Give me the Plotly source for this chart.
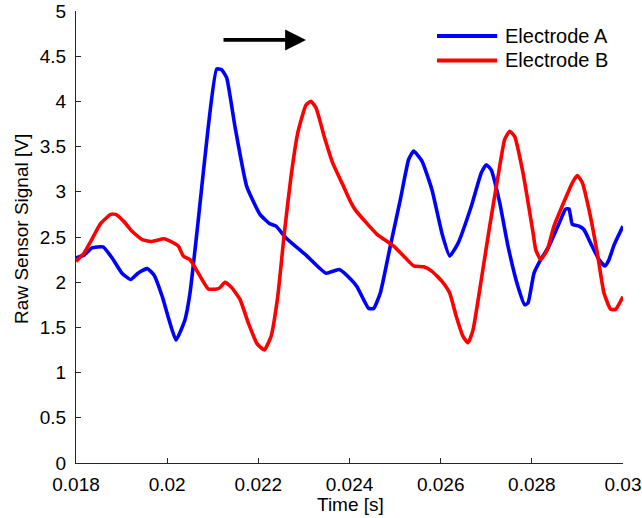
import plotly.graph_objects as go

# Sampled raw sensor traces (time in s, signal in V)
time_a = [0.018000, 0.018176, 0.018351, 0.018592, 0.018790, 0.019009, 0.019200, 0.019360,
          0.019564, 0.019711, 0.019893, 0.020040, 0.020194, 0.020391, 0.020501, 0.020683,
          0.020902, 0.021087, 0.021196, 0.021306, 0.021488, 0.021745, 0.022037, 0.022241,
          0.022388, 0.022607, 0.023046, 0.023484, 0.023776, 0.024033, 0.024165, 0.024421,
          0.024531, 0.024676, 0.024895, 0.025114, 0.025299, 0.025408, 0.025590, 0.025810,
          0.026029, 0.026198, 0.026380, 0.026672, 0.026892, 0.027001, 0.027111, 0.027295,
          0.027477, 0.027697, 0.027844, 0.027916, 0.028048, 0.028195, 0.028377, 0.028597,
          0.028743, 0.028816, 0.028888, 0.029035, 0.029145, 0.029292, 0.029474, 0.029605,
          0.029693, 0.029803, 0.030000]
signal_a = [2.27, 2.30, 2.38, 2.39, 2.27, 2.10, 2.03, 2.10,
            2.15, 2.08, 1.84, 1.585, 1.36, 1.585, 1.88, 2.69,
            3.72, 4.36, 4.35, 4.26, 3.72, 3.06, 2.75, 2.65,
            2.62, 2.49, 2.30, 2.10, 2.14, 2.03, 1.95, 1.71,
            1.71, 1.88, 2.40, 2.91, 3.36, 3.45, 3.34, 3.02,
            2.54, 2.29, 2.43, 2.84, 3.21, 3.30, 3.24, 2.88,
            2.40, 1.95, 1.75, 1.77, 2.10, 2.25, 2.40, 2.65,
            2.81, 2.81, 2.64, 2.62, 2.58, 2.43, 2.25, 2.18,
            2.25, 2.41, 2.62]

time_b = [0.018000, 0.018176, 0.018322, 0.018542, 0.018761, 0.018871, 0.019053, 0.019235,
          0.019454, 0.019639, 0.019931, 0.020040, 0.020244, 0.020354, 0.020501, 0.020683,
          0.020902, 0.021087, 0.021159, 0.021269, 0.021416, 0.021598, 0.021780, 0.021971,
          0.022131, 0.022278, 0.022425, 0.022570, 0.022717, 0.022864, 0.023046, 0.023155,
          0.023265, 0.023447, 0.023631, 0.023851, 0.024033, 0.024127, 0.024347, 0.024603,
          0.024970, 0.025224, 0.025408, 0.025628, 0.025810, 0.026029, 0.026198, 0.026343,
          0.026490, 0.026600, 0.026709, 0.026892, 0.027076, 0.027258, 0.027405, 0.027515,
          0.027624, 0.027806, 0.028026, 0.028085, 0.028195, 0.028339, 0.028486, 0.028706,
          0.028888, 0.028998, 0.029108, 0.029255, 0.029437, 0.029583, 0.029730, 0.029840,
          0.030000]
signal_b = [2.23, 2.32, 2.45, 2.65, 2.75, 2.75, 2.67, 2.56,
            2.47, 2.45, 2.48, 2.46, 2.40, 2.29, 2.25, 2.10,
            1.925, 1.925, 1.94, 2.00, 1.94, 1.81, 1.55, 1.32,
            1.25, 1.40, 1.84, 2.54, 3.17, 3.65, 3.96, 4.00,
            3.93, 3.61, 3.32, 3.08, 2.88, 2.80, 2.67, 2.53,
            2.40, 2.27, 2.18, 2.17, 2.12, 2.01, 1.88, 1.62,
            1.40, 1.33, 1.47, 2.03, 2.62, 3.17, 3.58, 3.67,
            3.61, 3.21, 2.55, 2.36, 2.25, 2.36, 2.62, 2.89,
            3.10, 3.18, 3.10, 2.80, 2.32, 1.88, 1.70, 1.70,
            1.84]

series_names = ["Electrode A", "Electrode B"]
series_colors = ["#0000FF", "#FF0000"]

x_ticks = [0.018, 0.020, 0.022, 0.024, 0.026, 0.028, 0.030]
x_tick_text = ["0.018", "0.02", "0.022", "0.024", "0.026", "0.028", "0.03"]
y_ticks = [0, 0.5, 1, 1.5, 2, 2.5, 3, 3.5, 4, 4.5, 5]
y_tick_text = ["0", "0.5", "1", "1.5", "2", "2.5", "3", "3.5", "4", "4.5", "5"]

# propagation direction arrow (start / end time, level)
arrow_t = [0.021203, 0.023046]
arrow_v = 4.68

FONT = "Liberation Sans, Arial, sans-serif"
FS = 19
AXIS_COLOR = "#262626"
LW = 3.6

fig = go.Figure()
for t, v, name, color in zip([time_a, time_b], [signal_a, signal_b], series_names, series_colors):
    fig.add_trace(go.Scatter(x=t, y=v, mode="lines", name=name, showlegend=False,
                             line=dict(color=color, width=LW, shape="spline", smoothing=0.45)))

fig.add_annotation(x=arrow_t[1], y=arrow_v, ax=arrow_t[0], ay=arrow_v,
                   xref="x", yref="y", axref="x", ayref="y",
                   showarrow=True, arrowhead=2, arrowsize=1.1, arrowwidth=3.8,
                   arrowcolor="black", text="")

# legend: line swatch + label, stacked in the upper right of the axes
legend_x0, legend_x1, legend_tx = 0.660, 0.770, 0.781
legend_rows = [0.9445, 0.8905]
for name, color, ly in zip(series_names, series_colors, legend_rows):
    fig.add_shape(type="line", xref="paper", yref="paper",
                  x0=legend_x0, x1=legend_x1, y0=ly, y1=ly,
                  line=dict(color=color, width=LW + 0.4))
    fig.add_annotation(x=legend_tx, y=ly, xref="paper", yref="paper",
                       text=name, showarrow=False, xanchor="left", yanchor="middle",
                       font=dict(family=FONT, size=FS + 1, color="black"))

# axis titles
fig.add_annotation(x=0.501, y=-0.092, xref="paper", yref="paper", text="Time [s]",
                   showarrow=False, xanchor="center", yanchor="middle",
                   font=dict(family=FONT, size=FS, color="black"))
fig.add_annotation(x=-0.0987, y=0.518, xref="paper", yref="paper",
                   text="Raw Sensor Signal [V]", textangle=-90,
                   showarrow=False, xanchor="center", yanchor="middle",
                   font=dict(family=FONT, size=FS, color="black"))

axis_common = dict(showline=True, linecolor=AXIS_COLOR, linewidth=1,
                   ticks="inside", ticklen=5, tickcolor=AXIS_COLOR,
                   showgrid=False, zeroline=False, mirror=False, automargin=False,
                   tickfont=dict(family=FONT, size=FS, color="black"))

fig.update_layout(
    width=642, height=518,
    margin=dict(l=76, r=19, t=11, b=55),
    paper_bgcolor="white", plot_bgcolor="white",
    font=dict(family=FONT, size=FS, color="black"),
    showlegend=False,
    xaxis=dict(range=[0.018, 0.030], tickvals=x_ticks, ticktext=x_tick_text,
               ticklabelstandoff=4, **axis_common),
    yaxis=dict(range=[0, 5], tickvals=y_ticks, ticktext=y_tick_text,
               ticklabelstandoff=5, **axis_common),
)

fig.write_html("out.html")
